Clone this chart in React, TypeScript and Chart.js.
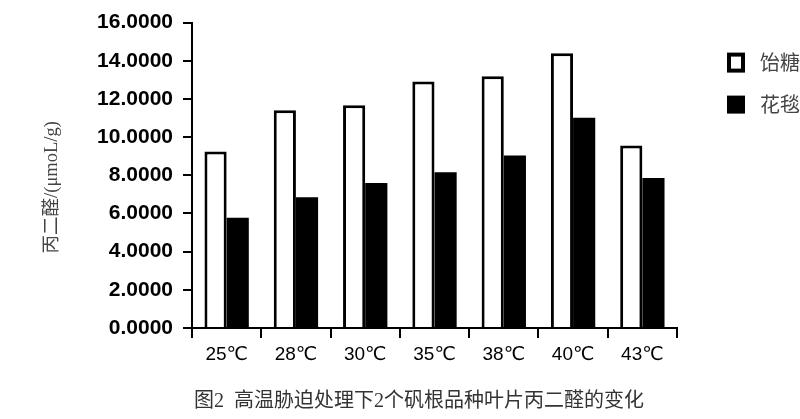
import React, { useEffect, useRef } from "react";
import { Chart, registerables } from "chart.js";

Chart.register(...registerables);

const categories = ["25℃", "28℃", "30℃", "35℃", "38℃", "40℃", "43℃"];
const seriesNames = ["饴糖", "花毯"];
const yitangValues = [9.25, 11.41, 11.67, 12.92, 13.19, 14.4, 9.56];
const huatanValues = [5.78, 6.85, 7.6, 8.16, 9.04, 11.01, 7.86];
const yTitle = "丙二醛/(μmoL/g)";
const caption = "图2  高温胁迫处理下2个矾根品种叶片丙二醛的变化";

const legendAndCaption = {
  id: "legendAndCaption",
  afterDraw(chart: any) {
    const ctx = chart.ctx;
    const area = chart.chartArea;
    ctx.save();
    // y title
    ctx.save();
    ctx.translate(52, (area.top + area.bottom) / 2 + 12);
    ctx.rotate(-Math.PI / 2);
    ctx.fillStyle = "#444";
    ctx.font = "18.5px 'Liberation Serif', 'Noto Sans CJK SC'";
    ctx.textAlign = "center";
    ctx.textBaseline = "middle";
    ctx.fillText(yTitle, 0, 0);
    ctx.restore();
    // legend
    const lx = area.right + 50;
    const rows = [area.top + 40, area.top + 82];
    chart.data.datasets.forEach((ds: any, i: number) => {
      const cy = rows[i];
      if (i === 0) {
        ctx.fillStyle = "#000";
        ctx.fillRect(lx, cy - 10, 18, 20);
        ctx.fillStyle = "#fff";
        ctx.fillRect(lx + 4, cy - 6, 10, 12);
      } else {
        ctx.fillStyle = "#000";
        ctx.fillRect(lx, cy - 9, 18, 18);
      }
      ctx.fillStyle = "#444";
      ctx.font = "20px 'Noto Sans CJK SC'";
      ctx.textBaseline = "middle";
      ctx.textAlign = "left";
      ctx.fillText(ds.label, lx + 33, cy);
    });
    // caption
    ctx.fillStyle = "#333";
    ctx.font = "20px 'Liberation Serif', 'Noto Sans CJK SC'";
    ctx.textAlign = "center";
    ctx.textBaseline = "middle";
    ctx.fillText(caption, 419, chart.height - 17);
    ctx.restore();
  },
};

export default function App() {
  const ref = useRef<HTMLCanvasElement>(null);
  useEffect(() => {
    document.body.style.margin = "0";
    const chart = new Chart(ref.current!, {
      type: "bar",
      data: {
        labels: categories,
        datasets: [
          {
            label: seriesNames[0],
            data: yitangValues,
            backgroundColor: "#fff",
            borderColor: "#000",
            borderWidth: 3,
            categoryPercentage: 0.64,
            barPercentage: 1,
          },
          {
            label: seriesNames[1],
            data: huatanValues,
            backgroundColor: "#000",
            borderColor: "#000",
            borderWidth: 0,
            categoryPercentage: 0.64,
            barPercentage: 1,
          },
        ],
      },
      options: {
        responsive: false,
        animation: false,
        devicePixelRatio: 1,
        layout: { padding: { left: 0, top: 20, right: 123, bottom: 0 } },
        plugins: {
          legend: { display: false },
          tooltip: { enabled: false },
        },
        scales: {
          x: {
            offset: true,
            grid: {
              offset: true,
              drawOnChartArea: false,
              drawTicks: true,
              tickLength: 10,
              color: "#000",
              lineWidth: 2,
            },
            border: { display: true, color: "#000", width: 2 },
            ticks: {
              color: "#000",
              padding: 5,
              font: { family: "'Liberation Sans', 'DejaVu Sans'", size: 19 },
            },
            afterFit(scale: any) {
              scale.height = 91;
            },
          },
          y: {
            min: 0,
            max: 16,
            grid: {
              drawOnChartArea: false,
              drawTicks: true,
              tickLength: 9,
              color: "#000",
              lineWidth: 2,
            },
            border: { display: true, color: "#000", width: 2 },
            ticks: {
              stepSize: 2,
              color: "#000",
              padding: 10,
              font: { family: "'Liberation Sans'", size: 21, weight: "bold" },
              callback: (v: any) => Number(v).toFixed(4),
            },
            afterFit(scale: any) {
              scale.width = 192;
            },
          },
        },
      },
      plugins: [legendAndCaption],
    });
    return () => chart.destroy();
  }, []);
  return (
    <div style={{ position: "absolute", left: 0, top: 0, width: 800, height: 419, background: "#fff" }}>
      <canvas ref={ref} width={800} height={419} />
    </div>
  );
}
